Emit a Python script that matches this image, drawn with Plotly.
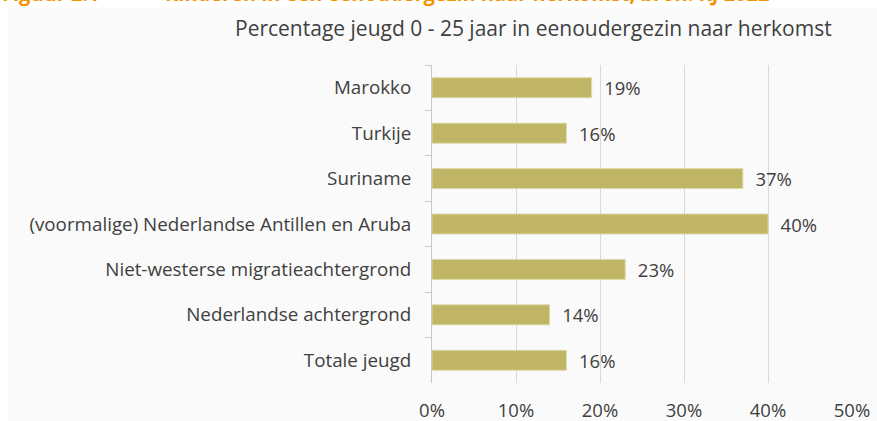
import plotly.graph_objects as go

categories = ["Marokko", "Turkije", "Suriname",
              "(voormalige) Nederlandse Antillen en Aruba",
              "Niet-westerse migratieachtergrond",
              "Nederlandse achtergrond", "Totale jeugd"]
values = [19, 16, 37, 40, 23, 14, 16]
x_ticks = [0, 10, 20, 30, 40, 50]
x_tick_labels = ["0%", "10%", "20%", "30%", "40%", "50%"]

W, H = 877, 421
L, R, T, B = 432, 25, 65, 38
pw, ph = W - L - R, H - T - B

def px_x(p):
    return (p - L) / pw

def px_y(p):
    return (H - B - p) / ph

font_family = "'Open Sans', sans-serif"
bg = "#fafafa"
txt = "#404040"

fig = go.Figure()
fig.add_trace(go.Bar(
    y=categories, x=values, orientation="h",
    marker=dict(color="#bfb565", line=dict(color="#ddd8a8", width=1)),
    width=0.44,
    text=[f"  {v}%" for v in values], textposition="outside",
    constraintext="none",
    textfont=dict(size=18.5, color=txt, family=font_family),
    cliponaxis=False,
))

fig.update_layout(
    width=W, height=H,
    margin=dict(l=L, r=R, t=T, b=B, autoexpand=False),
    paper_bgcolor="white", plot_bgcolor=bg,
    showlegend=False,
    font=dict(family=font_family, size=18.5, color=txt),
    xaxis=dict(range=[0, 50], tickvals=x_ticks, ticktext=x_tick_labels,
               showgrid=True, gridcolor="#d9d9d9", gridwidth=1,
               zeroline=False, showline=False, ticks="",
               ticklabelstandoff=14,
               tickfont=dict(size=18.5, color=txt)),
    yaxis=dict(autorange="reversed", showline=True, linecolor="#c8c8c8",
               linewidth=1, ticks="outside", tickson="boundaries",
               ticklen=6, tickcolor="#c8c8c8", ticklabelstandoff=16,
               showgrid=False, automargin=False,
               tickfont=dict(size=18.8, color=txt)),
    shapes=[dict(type="rect", xref="paper", yref="paper",
                 x0=px_x(8), x1=px_x(W + 2), y0=px_y(H + 2), y1=px_y(8),
                 fillcolor=bg, line=dict(width=0), layer="below")],
    annotations=[
        dict(text="Percentage jeugd 0 - 25 jaar in eenoudergezin naar herkomst",
             xref="paper", yref="paper", x=px_x(533), y=px_y(28),
             xanchor="center", yanchor="middle", showarrow=False,
             font=dict(size=21, color=txt, family=font_family)),
        dict(text="<b>Figuur 2.1</b>",
             xref="paper", yref="paper", x=px_x(0), y=px_y(-6),
             xanchor="left", yanchor="middle", showarrow=False,
             font=dict(size=20, color="#f39200", family=font_family)),
        dict(text="<b>Kinderen in een eenoudergezin naar herkomst, bron: KJ 2022</b>",
             xref="paper", yref="paper", x=px_x(163), y=px_y(-6),
             xanchor="left", yanchor="middle", showarrow=False,
             font=dict(size=20, color="#f39200", family=font_family)),
    ],
)

fig.write_html("out.html", config={"displayModeBar": False},
               post_script="document.body.style.margin='0';document.body.style.overflow='hidden';")
